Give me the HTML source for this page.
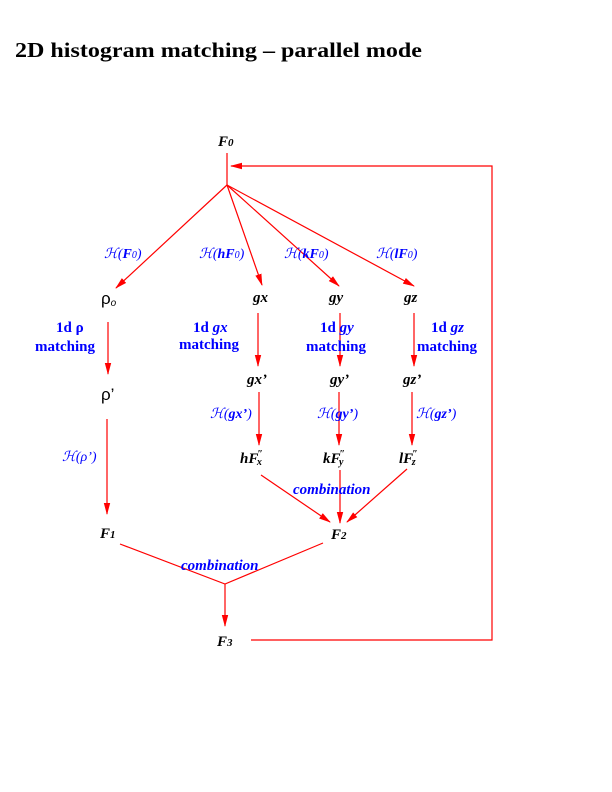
<!DOCTYPE html>
<html><head><meta charset="utf-8"><style>
html,body{margin:0;padding:0;background:#fff;}
svg{display:block;}
.n{font-family:"Liberation Serif",serif;font-weight:bold;font-style:italic;font-size:15px;fill:#000;}
.g{font-family:"Liberation Sans",sans-serif;font-size:17px;fill:#000;}
.b{font-family:"Liberation Serif",serif;font-style:italic;font-size:14px;fill:#0000ff;}
.m{font-family:"Liberation Serif",serif;font-weight:bold;font-size:15px;fill:#0000ff;}
.c{font-family:"Liberation Serif",serif;font-weight:bold;font-style:italic;font-size:15px;fill:#0000ff;}
</style></head><body>
<svg width="612" height="792" viewBox="0 0 612 792" xmlns="http://www.w3.org/2000/svg">
<defs><marker id="a" markerWidth="12" markerHeight="8" refX="11" refY="4" orient="auto" markerUnits="userSpaceOnUse"><path d="M0,0.8 L12,4 L0,7.2 Z" fill="#f00"/></marker></defs>
<text x="15" y="57" font-family="Liberation Serif,serif" font-weight="bold" font-size="21" textLength="407" lengthAdjust="spacingAndGlyphs">2D histogram matching – parallel mode</text>
<g stroke="#f00" stroke-width="1.2" fill="none">
<line x1="227" y1="153" x2="227" y2="185"/>
<polyline points="251,640 492,640 492,166 231,166" marker-end="url(#a)"/>
<line x1="227" y1="185" x2="116" y2="288" marker-end="url(#a)"/>
<line x1="227" y1="185" x2="262" y2="285" marker-end="url(#a)"/>
<line x1="227" y1="185" x2="339" y2="286" marker-end="url(#a)"/>
<line x1="227" y1="185" x2="414" y2="286" marker-end="url(#a)"/>
<line x1="108" y1="322" x2="108" y2="374" marker-end="url(#a)"/>
<line x1="258" y1="313" x2="258" y2="366" marker-end="url(#a)"/>
<line x1="340" y1="313" x2="340" y2="366" marker-end="url(#a)"/>
<line x1="414" y1="313" x2="414" y2="366" marker-end="url(#a)"/>
<line x1="107" y1="419" x2="107" y2="514" marker-end="url(#a)"/>
<line x1="259" y1="392" x2="259" y2="445" marker-end="url(#a)"/>
<line x1="339" y1="392" x2="339" y2="445" marker-end="url(#a)"/>
<line x1="412" y1="392" x2="412" y2="445" marker-end="url(#a)"/>
<line x1="261" y1="475" x2="330" y2="522" marker-end="url(#a)"/>
<line x1="340" y1="470" x2="340" y2="523" marker-end="url(#a)"/>
<line x1="407" y1="469" x2="347" y2="522" marker-end="url(#a)"/>
<polyline points="120,544 225,584 323,543"/>
<line x1="225" y1="584" x2="225" y2="626" marker-end="url(#a)"/>
</g>
<text class="n" x="218" y="146">F<tspan font-size="11">0</tspan></text>
<text class="b" x="104" y="258">ℋ(<tspan font-weight="bold">F</tspan><tspan font-size="10">0</tspan>)</text>
<text class="b" x="199" y="258">ℋ(<tspan font-weight="bold">hF</tspan><tspan font-size="10">0</tspan>)</text>
<text class="b" x="284" y="258">ℋ(<tspan font-weight="bold">kF</tspan><tspan font-size="10">0</tspan>)</text>
<text class="b" x="376" y="258">ℋ(<tspan font-weight="bold">lF</tspan><tspan font-size="10">0</tspan>)</text>
<text class="g" x="101" y="304">ρ<tspan font-size="10" font-style="italic" dy="2">o</tspan></text>
<text class="n" x="253" y="302">gx</text>
<text class="n" x="329" y="302">gy</text>
<text class="n" x="404" y="302">gz</text>
<text class="m" x="56" y="332">1d ρ</text>
<text class="m" x="35" y="351">matching</text>
<text class="m" x="193" y="332">1d <tspan font-style="italic">gx</tspan></text>
<text class="m" x="179" y="349">matching</text>
<text class="m" x="320" y="332">1d <tspan font-style="italic">gy</tspan></text>
<text class="m" x="306" y="351">matching</text>
<text class="m" x="431" y="332">1d <tspan font-style="italic">gz</tspan></text>
<text class="m" x="417" y="351">matching</text>
<text class="n" x="247" y="384">gx’</text>
<text class="n" x="330" y="384">gy’</text>
<text class="n" x="403" y="384">gz’</text>
<text class="g" x="101" y="400">ρ’</text>
<text class="b" x="210" y="418">ℋ(<tspan font-weight="bold">gx’</tspan>)</text>
<text class="b" x="317" y="418">ℋ(<tspan font-weight="bold">gy’</tspan>)</text>
<text class="b" x="416" y="418">ℋ(<tspan font-weight="bold">gz’</tspan>)</text>
<text class="b" x="62" y="461">ℋ(ρ’)</text>
<text class="n" x="240" y="463">hF<tspan font-size="10" dx="-1" dy="-6">″</tspan><tspan font-size="10" dx="-6" dy="8">x</tspan></text>
<text class="n" x="323" y="463">kF<tspan font-size="10" dx="-1" dy="-6">″</tspan><tspan font-size="10" dx="-6" dy="8">y</tspan></text>
<text class="n" x="399" y="463">lF<tspan font-size="10" dx="-1" dy="-6">″</tspan><tspan font-size="10" dx="-6" dy="8">z</tspan></text>
<text class="c" x="293" y="494">combination</text>
<text class="n" x="100" y="538">F<tspan font-size="11">1</tspan></text>
<text class="n" x="331" y="539">F<tspan font-size="11">2</tspan></text>
<text class="c" x="181" y="570">combination</text>
<text class="n" x="217" y="646">F<tspan font-size="11">3</tspan></text>
</svg>
</body></html>
